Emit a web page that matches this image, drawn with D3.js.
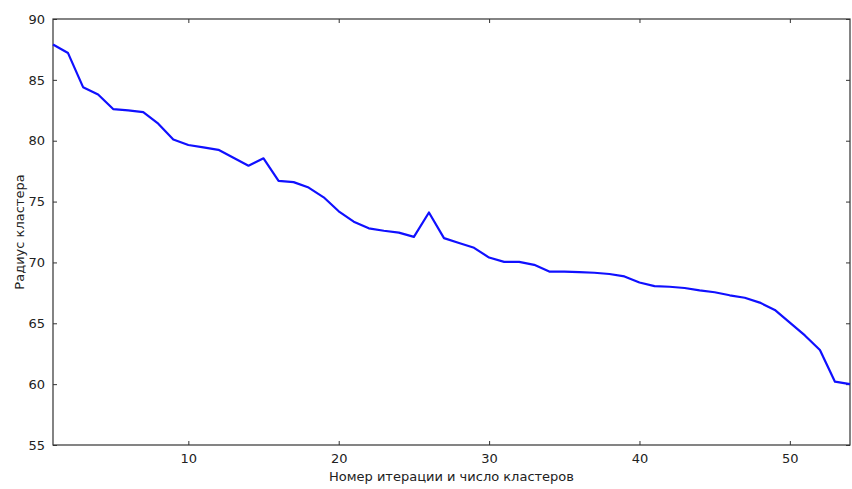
<!DOCTYPE html>
<html><head><meta charset="utf-8">
<script src="https://cdn.jsdelivr.net/npm/d3@7"></script>
<style>body{margin:0;background:#fff}svg{display:block}text{font-family:"DejaVu Sans",sans-serif;fill:#222}</style>
</head><body><svg id="c" width="852" height="489"></svg>
<script>
const iterations = d3.range(1, 55);
const radius = [87.9,87.2,84.4,83.8,82.6,82.5,82.35,81.4,80.1,79.65,79.45,79.25,78.6,77.95,78.55,76.7,76.6,76.15,75.35,74.2,73.35,72.8,72.6,72.45,72.1,74.1,72.0,71.6,71.2,70.4,70.05,70.05,69.8,69.25,69.25,69.2,69.15,69.05,68.85,68.35,68.05,68.0,67.9,67.7,67.55,67.3,67.1,66.7,66.1,65.05,64.0,62.8,60.2,60.0];
const xTicks = [10,20,30,40,50];
const yTicks = [55,60,65,70,75,80,85,90];
const xLabel = "Номер итерации и число кластеров";
const yLabel = "Радиус кластера";

const L=53, R=850, T=19, B=445;
const svg = d3.select("#c");
const x = d3.scaleLinear().domain([1,54]).range([L,R]);
const y = d3.scaleLinear().domain([55,90]).range([B,T]);

const tl = 4;
// bottom axis
const gb = svg.append("g").attr("transform",`translate(0,${B})`)
  .call(d3.axisBottom(x).tickValues(xTicks).tickSize(-tl).tickPadding(9).tickFormat(d3.format("d")));
const gt = svg.append("g").attr("transform",`translate(0,${T})`)
  .call(d3.axisTop(x).tickValues(xTicks).tickSize(-tl).tickFormat(""));
const gl = svg.append("g").attr("transform",`translate(${L},0)`)
  .call(d3.axisLeft(y).tickValues(yTicks).tickSize(-tl).tickPadding(8).tickFormat(d3.format("d")));
const gr = svg.append("g").attr("transform",`translate(${R},0)`)
  .call(d3.axisRight(y).tickValues(yTicks).tickSize(-tl).tickFormat(""));
[gb,gt,gl,gr].forEach(g=>{
  g.select(".domain").remove();
  g.selectAll(".tick line").attr("stroke","#333").attr("stroke-width",1);
  g.selectAll(".tick text").style("font-size","13px").attr("fill","#222").style("font-family","DejaVu Sans, sans-serif");
});

svg.append("rect").attr("x",L).attr("y",T).attr("width",R-L).attr("height",B-T)
  .attr("fill","none").attr("stroke","#333").attr("stroke-width",1.2);

const line = d3.line().x((d,i)=>x(iterations[i])).y(d=>y(d));
svg.append("path").datum(radius).attr("d",line).attr("fill","none")
  .attr("stroke","#1010ff").attr("stroke-width",2.2).attr("stroke-linejoin","round");

svg.append("text").attr("x",(L+R)/2).attr("y",481).attr("text-anchor","middle")
  .style("font-size","13px").text(xLabel);
svg.append("text").attr("transform",`translate(24,${(T+B)/2}) rotate(-90)`).attr("text-anchor","middle")
  .style("font-size","13px").text(yLabel);
</script></body></html>
